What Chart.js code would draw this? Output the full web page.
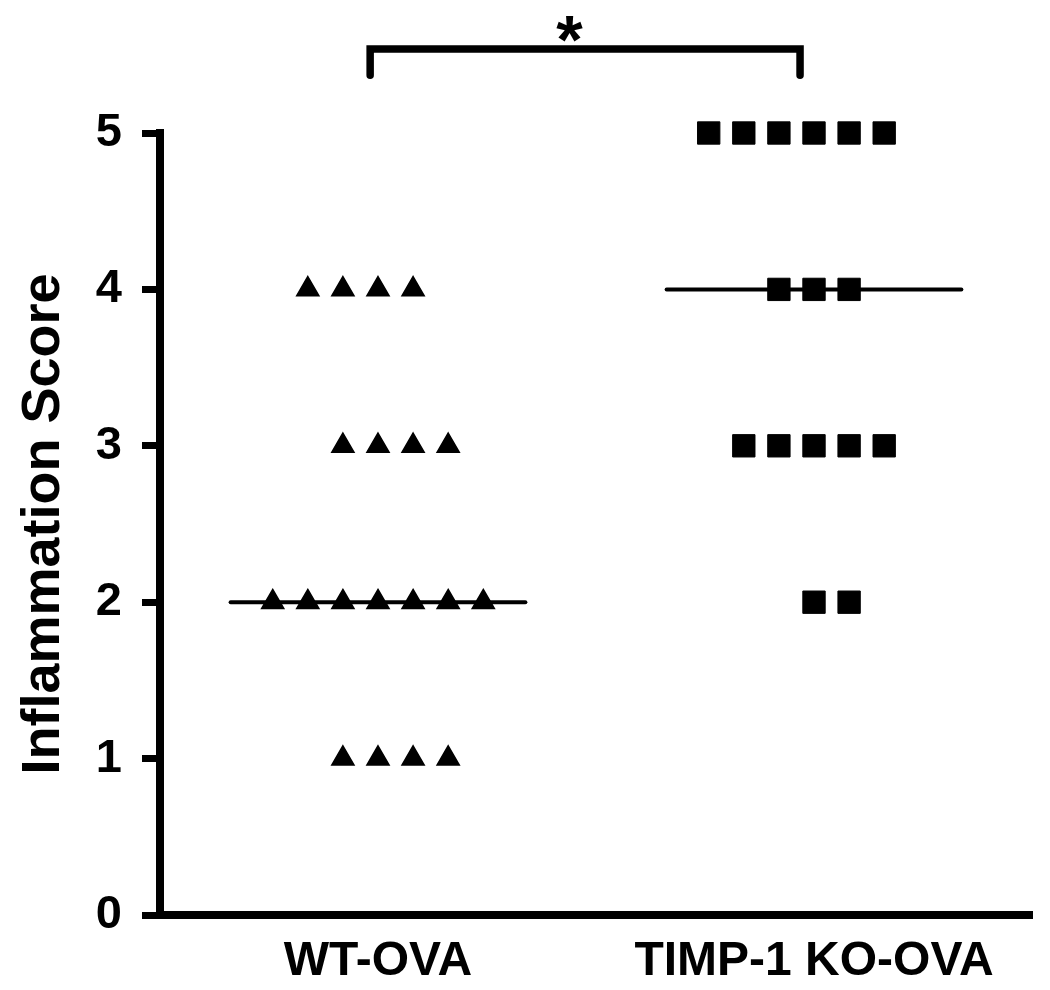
<!DOCTYPE html>
<html>
<head>
<meta charset="utf-8">
<script src="https://cdn.jsdelivr.net/npm/chart.js@4/dist/chart.umd.min.js"></script>
<style>
  html, body { margin: 0; padding: 0; background: #fff; }
  canvas { display: block; }
</style>
</head>
<body>
<canvas id="c" width="1050" height="990"></canvas>
<script>
// ---- data ----
const categories = ['WT-OVA', 'TIMP-1 KO-OVA'];
const yTicks = [0, 1, 2, 3, 4, 5];
const yAxisTitle = 'Inflammation Score';

// WT-OVA scores (triangles) and their horizontal slot in the scatter row
const wtScores = [4, 4, 4, 4, 3, 3, 3, 3, 2, 2, 2, 2, 2, 2, 2, 1, 1, 1, 1];
const wtSlots  = [-2, -1, 0, 1, -1, 0, 1, 2, -3, -2, -1, 0, 1, 2, 3, -1, 0, 1, 2];

// TIMP-1 KO-OVA scores (squares) and their horizontal slot
const koScores = [5, 5, 5, 5, 5, 5, 4, 4, 4, 3, 3, 3, 3, 3, 2, 2];
const koSlots  = [-3, -2, -1, 0, 1, 2, -1, 0, 1, -2, -1, 0, 1, 2, 0, 1];

// medians per group
const medians = [2, 4];

// significance bracket between the two groups
const sigLabel = '*';
const sigBracketX = [0.982, 1.968];
const sigBracketY = [5.37, 5.537];
const sigLabelPos = [1.439, 5.69];

// ---- build datasets ----
const slotStep = 0.0805;
const medianHalf = 0.338;

const wtPoints = wtScores.map((s, i) => ({ x: 1 + wtSlots[i] * slotStep, y: s }));
const koPoints = koScores.map((s, i) => ({ x: 2 + koSlots[i] * slotStep, y: s }));
const medianLines = medians.map((m, i) => [
  { x: i + 1 - medianHalf, y: m },
  { x: i + 1 + medianHalf, y: m }
]);
const bracket = [
  { x: sigBracketX[0], y: sigBracketY[0] },
  { x: sigBracketX[0], y: sigBracketY[1] },
  { x: sigBracketX[1], y: sigBracketY[1] },
  { x: sigBracketX[1], y: sigBracketY[0] }
];

const FONT = "'Liberation Sans', Arial, Helvetica, sans-serif";

const sigPlugin = {
  id: 'sigText',
  afterDatasetsDraw(chart) {
    const { ctx, scales } = chart;
    const px = scales.x.getPixelForValue(sigLabelPos[0]);
    const py = scales.y.getPixelForValue(sigLabelPos[1]);
    const size = 68;
    ctx.save();
    ctx.fillStyle = '#000';
    ctx.font = `bold ${size}px ${FONT}`;
    ctx.textAlign = 'center';
    ctx.textBaseline = 'alphabetic';
    ctx.fillText(sigLabel, px, py + 0.56 * size);
    ctx.restore();
  }
};

new Chart(document.getElementById('c'), {
  type: 'scatter',
  data: {
    datasets: [
      {
        label: categories[0],
        data: wtPoints,
        pointStyle: 'triangle',
        pointRadius: 12.8,
        backgroundColor: '#000',
        borderColor: '#000',
        borderWidth: 1.5,
        showLine: false,
        clip: false
      },
      {
        label: categories[1],
        data: koPoints,
        pointStyle: 'rect',
        pointRadius: 15.8,
        backgroundColor: '#000',
        borderColor: '#000',
        borderWidth: 1,
        showLine: false,
        clip: false
      },
      ...medianLines.map((d, i) => ({
        label: 'median ' + categories[i],
        data: d,
        showLine: true,
        borderColor: '#000',
        borderWidth: 4,
        borderCapStyle: 'round',
        pointRadius: 0,
        clip: false
      })),
      {
        label: 'bracket',
        data: bracket,
        showLine: true,
        borderColor: '#000',
        borderWidth: 7.5,
        borderCapStyle: 'round',
        borderJoinStyle: 'miter',
        pointRadius: 0,
        clip: false
      }
    ]
  },
  options: {
    responsive: false,
    devicePixelRatio: 1,
    animation: false,
    events: [],
    layout: { padding: { top: 133, right: 18, left: 0, bottom: 0 } },
    plugins: { legend: { display: false }, tooltip: { enabled: false } },
    scales: {
      x: {
        type: 'linear',
        min: 0.5,
        max: 2.5,
        afterFit(scale) { scale.height = 75; },
        afterBuildTicks(scale) { scale.ticks = categories.map((c, i) => ({ value: i + 1 })); },
        grid: { display: false, drawTicks: false },
        border: { display: true, color: '#000', width: 8 },
        ticks: {
          padding: 18,
          autoSkip: false,
          maxRotation: 0,
          color: '#000',
          font: { family: FONT, weight: 'bold', size: 48 },
          callback: (v) => categories[Math.round(v) - 1] || ''
        }
      },
      y: {
        type: 'linear',
        min: yTicks[0],
        max: yTicks[yTicks.length - 1],
        afterFit(scale) { scale.width = 160; },
        afterBuildTicks(scale) { scale.ticks = yTicks.map(v => ({ value: v })); },
        grid: {
          display: true,
          drawOnChartArea: false,
          drawTicks: true,
          tickLength: 18,
          tickWidth: 7,
          lineWidth: 7,
          tickColor: '#000',
          color: '#000'
        },
        border: { display: true, color: '#000', width: 8 },
        ticks: {
          padding: 20,
          color: '#000',
          font: { family: FONT, weight: 'bold', size: 47 }
        },
        title: {
          display: true,
          text: yAxisTitle,
          color: '#000',
          font: { family: FONT, weight: 'bold', size: 54 },
          padding: { top: 12, bottom: 0 }
        }
      }
    }
  },
  plugins: [sigPlugin]
});
</script>
</body>
</html>
